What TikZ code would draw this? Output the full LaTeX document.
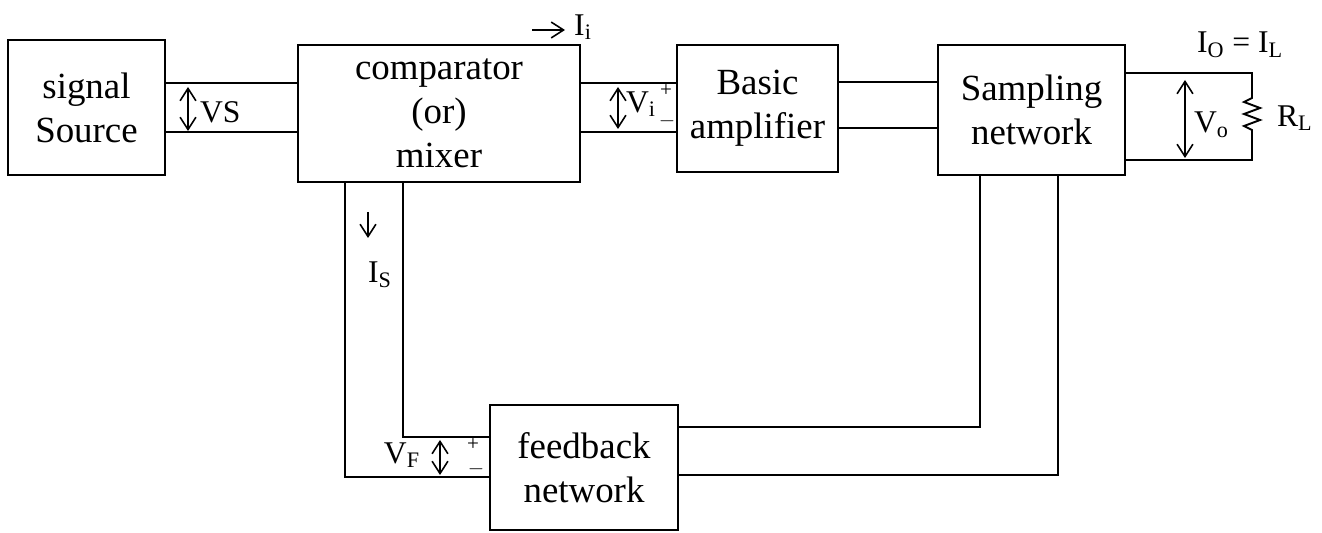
\documentclass[tikz,border=0pt]{standalone}
\usepackage{fontspec}
\setmainfont{Liberation Serif}
\usetikzlibrary{arrows.meta}
\begin{document}
\begin{tikzpicture}[x=0.02cm,y=-0.02cm,
  blk/.style={draw,line width=1.1pt,align=center,inner sep=2pt,font=\fontsize{21}{25}\selectfont},
  wire/.style={line width=1.1pt},
  varr/.style={line width=0.9pt,{Straight Barb[length=7pt,width=9pt]}-{Straight Barb[length=7pt,width=9pt]}},
  sarr/.style={line width=0.9pt,-{Straight Barb[length=7pt,width=9pt]}},
  lbl/.style={font=\fontsize{18}{20}\selectfont,inner sep=1pt},
  sml/.style={font=\fontsize{12}{13}\selectfont,inner sep=0pt}]
\useasboundingbox (0,0) rectangle (1322,533);
% blocks
\node[blk,minimum width=3.14cm,minimum height=2.7cm] (sig) at (86.5,107.5) {signal\\Source};
\node[blk,minimum width=5.64cm,minimum height=2.74cm] (cmp) at (439,113.5) {comparator\\(or)\\mixer};
\node[blk,minimum width=3.22cm,minimum height=2.54cm] (amp) at (757.5,108.5) {Basic\\amplifier};
\node[blk,minimum width=3.74cm,minimum height=2.6cm] (smp) at (1031.5,110) {Sampling\\network};
\node[blk,minimum width=3.76cm,minimum height=2.5cm] (fb) at (584,467.5) {feedback\\network};
% helper coordinates
\coordinate (y83) at (0,83);
\coordinate (y133) at (0,132);
\coordinate (y82) at (0,82);
\coordinate (y128) at (0,128);
\coordinate (y73) at (0,73);
\coordinate (y160) at (0,160);
\coordinate (x345) at (345,0);
\coordinate (x405) at (403,0);
\coordinate (x980) at (980,0);
\coordinate (x1058) at (1058,0);
\coordinate (y437) at (0,437);
\coordinate (y477) at (0,477);
\coordinate (y427) at (0,427);
\coordinate (y475) at (0,475);
% wires between blocks
\draw[wire] (sig.east |- y83) -- (cmp.west |- y83);
\draw[wire] (sig.east |- y133) -- (cmp.west |- y133);
\draw[wire] (cmp.east |- y83) -- (amp.west |- y83);
\draw[wire] (cmp.east |- y133) -- (amp.west |- y133);
\draw[wire] (amp.east |- y82) -- (smp.west |- y82);
\draw[wire] (amp.east |- y128) -- (smp.west |- y128);
% load resistor
\coordinate (rt) at (1252,73);
\coordinate (rb) at (1252,160);
\draw[wire] (smp.east |- y73) -- (rt) -- (1252,98) -- (1244,102) -- (1260,108) -- (1244,114) -- (1260,120) -- (1244,126) -- (1252,130) -- (rb) -- (smp.east |- y160);
% feedback paths
\draw[wire] (cmp.south -| x345) -- (x345 |- y477) -- (fb.west |- y477);
\draw[wire] (cmp.south -| x405) -- (x405 |- y437) -- (fb.west |- y437);
\draw[wire] (fb.east |- y427) -- (x980 |- y427) -- (smp.south -| x980);
\draw[wire] (fb.east |- y475) -- (x1058 |- y475) -- (smp.south -| x1058);
% voltage arrows and labels
\coordinate (vs1) at (188,87); \coordinate (vs2) at (188,131);
\draw[varr] (vs1) -- (vs2);
\node[lbl,anchor=west] (vs) at (198,112) {VS};
\coordinate (vi1) at (618,87); \coordinate (vi2) at (618,129);
\draw[varr] (vi1) -- (vi2);
\node[lbl,anchor=west] (vi) at (624,104) {V\textsubscript{i}};
\node[sml] (vip) at (666,91) {+};
\node[sml] (vim) at (667,121) {$-$};
\coordinate (ii1) at (532,30); \coordinate (ii2) at (565,30);
\draw[sarr] (ii1) -- (ii2);
\node[lbl] (ii) at (583,27) {I\textsubscript{i}};
\node[lbl] (io) at (1240,45) {I\textsubscript{O} = I\textsubscript{L}};
\node[lbl,anchor=west] (rl) at (1275,118) {R\textsubscript{L}};
\coordinate (vo1) at (1185,80); \coordinate (vo2) at (1185,158);
\draw[varr] (vo1) -- (vo2);
\node[lbl,anchor=west] (vo) at (1192,125) {V\textsubscript{o}};
\coordinate (is1) at (368,212); \coordinate (is2) at (368,238);
\draw[sarr] (is1) -- (is2);
\node[lbl] (is) at (380,275) {I\textsubscript{S}};
\coordinate (vf1) at (440,440); \coordinate (vf2) at (440,475);
\draw[varr] (vf1) -- (vf2);
\node[lbl] (vf) at (402,455) {V\textsubscript{F}};
\node[sml] (vfp) at (473,445) {+};
\node[sml] (vfm) at (476,469) {$-$};
\end{tikzpicture}
\end{document}
